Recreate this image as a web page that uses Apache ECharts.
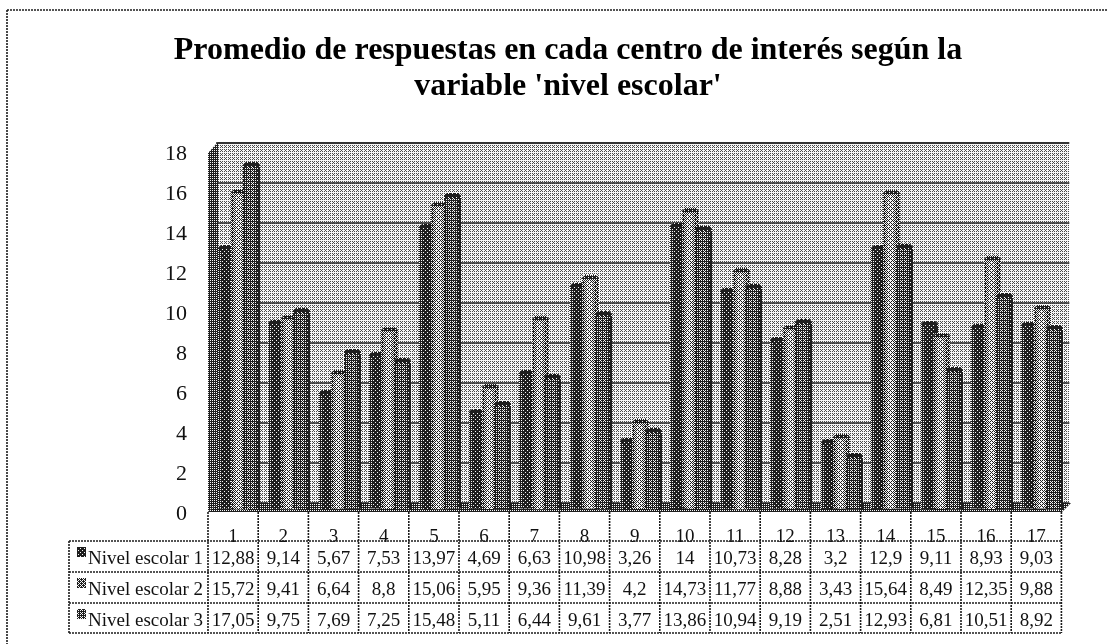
<!DOCTYPE html>
<html>
<head>
<meta charset="utf-8">
<title>Promedio de respuestas</title>
<script src="https://cdn.jsdelivr.net/npm/echarts@6/dist/echarts.min.js"></script>
<style>
  html, body { margin: 0; padding: 0; background: #fff; }
  #chart { width: 1108px; height: 644px; }
</style>
</head>
<body>
<div id="chart"></div>
<script>
const categories = ['1', '2', '3', '4', '5', '6', '7', '8', '9', '10', '11', '12', '13', '14', '15', '16', '17'];
const seriesNames = ['Nivel escolar 1', 'Nivel escolar 2', 'Nivel escolar 3'];
const nivel1 = [12.88, 9.14, 5.67, 7.53, 13.97, 4.69, 6.63, 10.98, 3.26, 14, 10.73, 8.28, 3.2, 12.9, 9.11, 8.93, 9.03];
const nivel2 = [15.72, 9.41, 6.64, 8.8, 15.06, 5.95, 9.36, 11.39, 4.2, 14.73, 11.77, 8.88, 3.43, 15.64, 8.49, 12.35, 9.88];
const nivel3 = [17.05, 9.75, 7.69, 7.25, 15.48, 5.11, 6.44, 9.61, 3.77, 13.86, 10.94, 9.19, 2.51, 12.93, 6.81, 10.51, 8.92];
const allSeries = [nivel1, nivel2, nivel3];

const FONT = '"Liberation Serif", serif';
const INK = '#1c1c1c';

// the reference is a halftoned scan, so fills are ordered dither patterns
const BAYER = [[0, 8, 2, 10], [12, 4, 14, 6], [3, 11, 1, 9], [15, 7, 13, 5]];
function dither(w, toneAt, dark) {
  const c = document.createElement('canvas');
  c.width = w;
  c.height = 4;
  const ctx = c.getContext('2d');
  for (let x = 0; x < w; x++) {
    for (let y = 0; y < 4; y++) {
      const on = toneAt(x / Math.max(w - 1, 1)) > (BAYER[y][x % 4] + 0.5) / 16;
      ctx.fillStyle = on ? '#f6f6f6' : (dark || '#1e1e1e');
      ctx.fillRect(x, y, 1, 1);
    }
  }
  return { image: c, repeat: 'repeat' };
}
function flat(tone, dark) {
  return dither(4, () => tone, dark);
}

const BAR_W = 17;
const BAR_STEP = 12.5;
const barFills = [
  dither(BAR_W, t => 0.22 - 0.2 * t),
  dither(BAR_W, t => (t < 0.5 ? 0.35 + 0.6 * t : 0.65 - 0.7 * (t - 0.5))),
  dither(BAR_W, t => (t < 0.6 ? 0.2 + 0.3 * t : 0.38 - 0.95 * (t - 0.6)))
];
const barCaps = [flat(0.04), flat(0.2), flat(0.08)];

function barSeries(values, s) {
  return {
    name: seriesNames[s],
    type: 'custom',
    z: 3 + s,
    clip: false,
    data: values.map((v, i) => [i, v]),
    renderItem(params, api) {
      const top = api.coord([api.value(0), api.value(1)]);
      const base = api.coord([api.value(0), 0]);
      const left = top[0] - 2 + (s - 1) * BAR_STEP - BAR_W / 2;
      const h = base[1] + 6 - top[1];
      return {
        type: 'group',
        x: Math.round(left),
        y: Math.round(top[1]),
        children: [
          {
            type: 'polygon',
            shape: { points: [[0, h], [0, 3], [3, 0], [BAR_W - 3, 0], [BAR_W, 3], [BAR_W, h]] },
            style: { fill: barFills[s] }
          },
          {
            type: 'polygon',
            shape: { points: [[0, 5], [0, 3], [3, 0], [BAR_W - 3, 0], [BAR_W, 3], [BAR_W, 5]] },
            style: { fill: barCaps[s] }
          }
        ]
      };
    }
  };
}

// table geometry
const COL_X = 208;
const COL_W = 50.2;
const TABLE_LEFT = 69;
const TABLE_RIGHT = COL_X + COL_W * categories.length;
const ROW_Y = [541, 572, 603, 633];

function rule(x1, y1, x2, y2) {
  return {
    type: 'line',
    z: 20,
    shape: { x1, y1, x2, y2 },
    style: { stroke: INK, lineWidth: 1.6, lineDash: [2, 1] }
  };
}

function tableElements() {
  const els = [];
  ROW_Y.forEach(y => els.push(rule(TABLE_LEFT, y, TABLE_RIGHT, y)));
  els.push(rule(TABLE_LEFT, ROW_Y[0], TABLE_LEFT, ROW_Y[3]));
  for (let i = 0; i <= categories.length; i++) {
    els.push(rule(COL_X + i * COL_W, 512, COL_X + i * COL_W, ROW_Y[3]));
  }
  allSeries.forEach((values, s) => {
    const cy = ROW_Y[s] + 18;
    els.push({
      type: 'rect',
      z: 21,
      shape: { x: 77, y: cy - 12, width: 9, height: 10 },
      style: { fill: flat([0.15, 0.4, 0.3][s]) }
    });
    els.push({
      type: 'text',
      z: 21,
      style: { x: 88, y: cy, text: seriesNames[s], font: '19px ' + FONT, fill: '#111', verticalAlign: 'middle' }
    });
    values.forEach((v, i) => {
      els.push({
        type: 'text',
        z: 21,
        style: {
          x: COL_X + (i + 0.5) * COL_W,
          y: cy,
          text: String(v).replace('.', ','),
          font: '19px ' + FONT,
          fill: '#111',
          align: 'center',
          verticalAlign: 'middle'
        }
      });
    });
  });
  return els;
}

const chart = echarts.init(document.getElementById('chart'), null, { renderer: 'canvas' });
chart.setOption({
  animation: false,
  backgroundColor: '#fff',
  title: {
    text: "Promedio de respuestas en cada centro de interés según la\nvariable 'nivel escolar'",
    left: 563,
    top: 28,
    textAlign: 'center',
    textStyle: { fontFamily: FONT, fontSize: 32, fontWeight: 'bold', color: '#000', lineHeight: 36 }
  },
  grid: { left: 216, width: COL_W * categories.length, top: 143, height: 360 },
  xAxis: {
    type: 'category',
    data: categories,
    axisLine: { show: false },
    axisTick: { show: false },
    axisLabel: { interval: 0, margin: 25, padding: [0, 16, 0, 0], fontFamily: FONT, fontSize: 19, color: '#111' }
  },
  yAxis: {
    type: 'value',
    min: 0,
    max: 18,
    interval: 2,
    axisLine: { show: false },
    axisTick: { show: false },
    axisLabel: { margin: 29, verticalAlign: 'top', fontFamily: FONT, fontSize: 22, color: '#111' },
    splitLine: { show: true, lineStyle: { color: '#2a2a2a', width: 1.5 } }
  },
  series: allSeries.map(barSeries),
  graphic: { elements: [
    // back wall, side wall and floor of the 3D box
    { type: 'rect', z: -1, shape: { x: 218, y: 142, width: 851, height: 362 }, style: { fill: flat(0.66, '#4a4a4a') } },
    { type: 'line', z: 1, shape: { x1: 218, y1: 143, x2: 1069, y2: 143 }, style: { stroke: '#333', lineWidth: 2 } },
    { type: 'polygon', z: 1, shape: { points: [[208, 153], [218, 142], [218, 503], [208, 512]] }, style: { fill: flat(0.25) } },
    { type: 'polygon', z: 1, shape: { points: [[218, 503], [1071, 503], [1062, 512], [208, 512]] }, style: { fill: flat(0.25) } },
    ...tableElements(),
    // page frame: only top and left survive in the scan
    { type: 'line', z: 20, shape: { x1: 7, y1: 10, x2: 1108, y2: 10 }, style: { stroke: INK, lineWidth: 1.6, lineDash: [2, 1] } },
    { type: 'line', z: 20, shape: { x1: 7, y1: 10, x2: 7, y2: 644 }, style: { stroke: INK, lineWidth: 1.6, lineDash: [2, 1] } }
  ] }
});
</script>
</body>
</html>
